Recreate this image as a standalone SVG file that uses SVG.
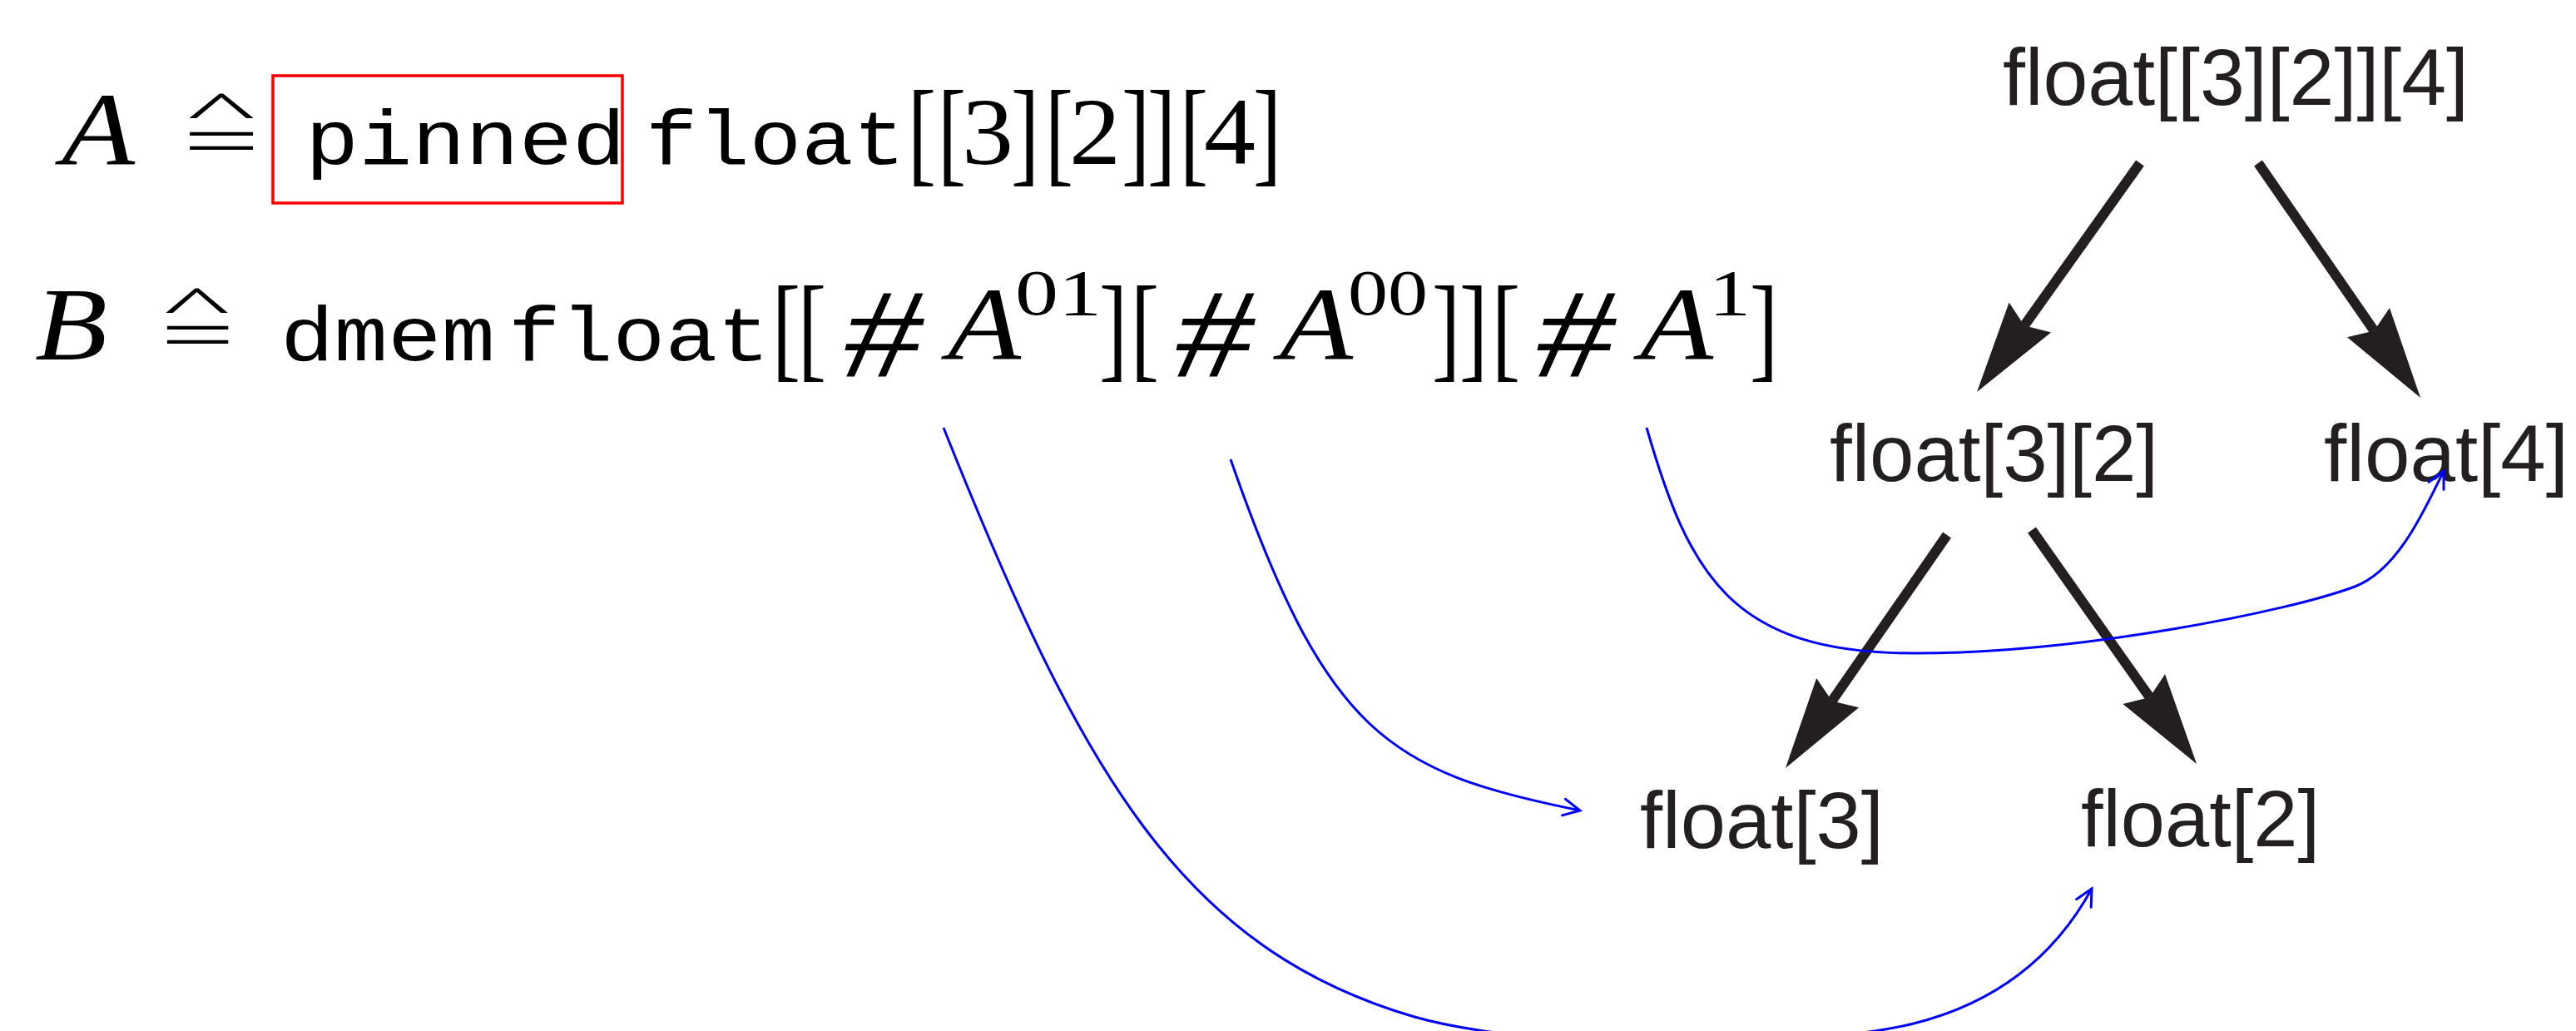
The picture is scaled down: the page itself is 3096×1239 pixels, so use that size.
<svg xmlns="http://www.w3.org/2000/svg" width="3096" height="1239" viewBox="0 0 3096 1239">
<style>
.mono{font-family:"Liberation Mono","DejaVu Sans Mono",monospace;font-size:92px;fill:#000}
.serif{font-family:"Liberation Serif","DejaVu Serif",serif;fill:#000}
.it{font-style:italic}
.br{font-size:140px}
.dg{font-size:114px}
.sup{font-size:78px}
.big{font-size:124px}
.eq{font-size:84px}
.hat{font-size:64px}
.sans{font-family:"Liberation Sans",Arial,sans-serif;font-size:97px;fill:#231f20}
.blue{fill:none;stroke:#0000ff;stroke-width:3}
.thick{fill:none;stroke:#231f20;stroke-width:12}
</style>
<defs>
<marker id="stealth" markerUnits="userSpaceOnUse" markerWidth="120" markerHeight="70" refX="12" refY="35" orient="auto" overflow="visible">
<path d="M0,4 L110,35 L0,66 L12,35 Z" fill="#231f20"/>
</marker>
<marker id="open" markerUnits="userSpaceOnUse" markerWidth="30" markerHeight="30" refX="22" refY="15" orient="auto" overflow="visible">
<path d="M2,5 L22,15 L2,25" fill="none" stroke="#0000ff" stroke-width="3" stroke-linecap="round"/>
</marker>
</defs>
<rect width="3096" height="1239" fill="#fff"/>

<g id="eqA">
<text class="serif it big" x="74" y="198" textLength="88" lengthAdjust="spacingAndGlyphs">A</text>
<text class="serif hat" x="225" y="154" textLength="82" lengthAdjust="spacingAndGlyphs">^</text>
<text class="serif eq" x="220" y="198" textLength="92" lengthAdjust="spacingAndGlyphs">=</text>
<rect x="328" y="91" width="420" height="153" fill="none" stroke="#ff0000" stroke-width="3.5"/>
<text class="mono" x="367" y="197" textLength="385" lengthAdjust="spacingAndGlyphs">pinned</text>
<text class="mono" x="776" y="197" textLength="312" lengthAdjust="spacingAndGlyphs">float</text>
<text class="serif br" x="1091" y="205" textLength="34" lengthAdjust="spacingAndGlyphs">[</text>
<text class="serif br" x="1127" y="205" textLength="34" lengthAdjust="spacingAndGlyphs">[</text>
<text class="serif dg" x="1156" y="197" textLength="62" lengthAdjust="spacingAndGlyphs">3</text>
<text class="serif br" x="1215" y="205" textLength="34" lengthAdjust="spacingAndGlyphs">]</text>
<text class="serif br" x="1256" y="205" textLength="34" lengthAdjust="spacingAndGlyphs">[</text>
<text class="serif dg" x="1285" y="197" textLength="62" lengthAdjust="spacingAndGlyphs">2</text>
<text class="serif br" x="1348" y="205" textLength="34" lengthAdjust="spacingAndGlyphs">]</text>
<text class="serif br" x="1379" y="205" textLength="34" lengthAdjust="spacingAndGlyphs">]</text>
<text class="serif br" x="1418" y="205" textLength="34" lengthAdjust="spacingAndGlyphs">[</text>
<text class="serif dg" x="1447" y="197" textLength="62" lengthAdjust="spacingAndGlyphs">4</text>
<text class="serif br" x="1506" y="205" textLength="34" lengthAdjust="spacingAndGlyphs">]</text>
</g>

<g id="eqB">
<text class="serif it big" x="42" y="432" textLength="87" lengthAdjust="spacingAndGlyphs">B</text>
<text class="serif hat" x="197" y="388" textLength="79" lengthAdjust="spacingAndGlyphs">^</text>
<text class="serif eq" x="193" y="431" textLength="89" lengthAdjust="spacingAndGlyphs">=</text>
<text class="mono" x="337" y="433" textLength="258" lengthAdjust="spacingAndGlyphs">dmem</text>
<text class="mono" x="611" y="433" textLength="314" lengthAdjust="spacingAndGlyphs">float</text>
<text class="serif br" x="928" y="440" textLength="34" lengthAdjust="spacingAndGlyphs">[</text>
<text class="serif br" x="959" y="440" textLength="34" lengthAdjust="spacingAndGlyphs">[</text>
<text class="serif it" x="1014" y="452" font-size="152" textLength="94" lengthAdjust="spacingAndGlyphs">#</text>
<text class="serif it big" x="1139" y="432" textLength="88" lengthAdjust="spacingAndGlyphs">A</text>
<text class="serif sup" x="1220" y="378" textLength="104" lengthAdjust="spacingAndGlyphs">01</text>
<text class="serif br" x="1321" y="440" textLength="34" lengthAdjust="spacingAndGlyphs">]</text>
<text class="serif br" x="1359" y="440" textLength="34" lengthAdjust="spacingAndGlyphs">[</text>
<text class="serif it" x="1412" y="452" font-size="152" textLength="94" lengthAdjust="spacingAndGlyphs">#</text>
<text class="serif it big" x="1538" y="432" textLength="88" lengthAdjust="spacingAndGlyphs">A</text>
<text class="serif sup" x="1620" y="378" textLength="96" lengthAdjust="spacingAndGlyphs">00</text>
<text class="serif br" x="1721" y="440" textLength="34" lengthAdjust="spacingAndGlyphs">]</text>
<text class="serif br" x="1754" y="440" textLength="34" lengthAdjust="spacingAndGlyphs">]</text>
<text class="serif br" x="1793" y="440" textLength="34" lengthAdjust="spacingAndGlyphs">[</text>
<text class="serif it" x="1846" y="452" font-size="152" textLength="94" lengthAdjust="spacingAndGlyphs">#</text>
<text class="serif it big" x="1971" y="432" textLength="88" lengthAdjust="spacingAndGlyphs">A</text>
<text class="serif sup" x="2054" y="378" textLength="50" lengthAdjust="spacingAndGlyphs">1</text>
<text class="serif br" x="2103" y="440" textLength="34" lengthAdjust="spacingAndGlyphs">]</text>
</g>

<g id="n-root"><text class="sans" x="2407" y="126" textLength="560" lengthAdjust="spacingAndGlyphs">float[[3][2]][4]</text></g>
<g id="n-32"><text class="sans" x="2199" y="578" textLength="395" lengthAdjust="spacingAndGlyphs">float[3][2]</text></g>
<g id="n-4"><text class="sans" x="2793" y="578" textLength="294" lengthAdjust="spacingAndGlyphs">float[4]</text></g>
<g id="n-3"><text class="sans" x="1971" y="1019" textLength="293" lengthAdjust="spacingAndGlyphs">float[3]</text></g>
<g id="n-2"><text class="sans" x="2501" y="1017" textLength="287" lengthAdjust="spacingAndGlyphs">float[2]</text></g>

<g id="connectors">
<line class="thick" x1="2572" y1="196" x2="2432.9" y2="391.2" marker-end="url(#stealth)"/>
<line class="thick" x1="2714" y1="196" x2="2853.3" y2="397.4" marker-end="url(#stealth)"/>
<line class="thick" x1="2340" y1="643" x2="2201.8" y2="842.4" marker-end="url(#stealth)"/>
<line class="thick" x1="2442" y1="637" x2="2583.6" y2="837.9" marker-end="url(#stealth)"/>
<path class="blue" d="M1134,514 C1300,930 1420,1140 1700,1222 C1850,1265 2180,1260 2300,1230 C2420,1200 2480,1130 2514,1068" marker-end="url(#open)"/>
<path class="blue" d="M1479,552 C1594,882 1669,928 1899,974" marker-end="url(#open)"/>
<path class="blue" d="M1979,514 C2030,690 2080,785 2300,785 C2500,785 2750,735 2830,705 C2883,685 2915,610 2937,566" marker-end="url(#open)"/>
</g>
</svg>
